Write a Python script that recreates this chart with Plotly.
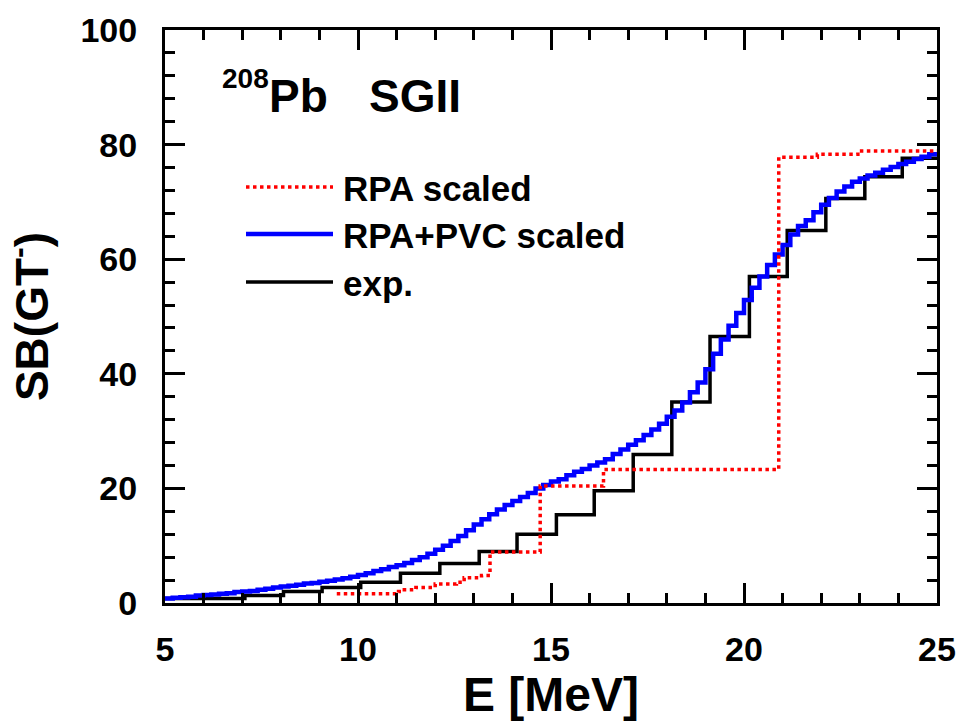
import plotly.graph_objects as go

# ---------------- data ----------------
# experimental cumulative strength (step edges in MeV, values between edges)
exp_edges = [5.0, 7.07, 8.07, 9.07, 10.07, 11.1, 12.12, 13.14, 14.12, 15.14, 16.12,
             17.13, 18.13, 19.12, 20.14, 21.12, 22.12, 23.13, 24.1, 25.0]
exp_vals = [0.8, 1.3, 2.0, 2.7, 3.6, 5.2, 6.9, 9.0, 12.0, 15.4, 19.6,
            25.9, 35.1, 46.5, 57.0, 65.0, 70.6, 74.4, 77.6]

# RPA scaled
rpa_edges = [9.45, 11.05, 11.2, 11.5, 12.0, 12.55, 12.75, 13.2, 13.42, 14.72,
             16.36, 20.9, 21.9, 22.95, 25.0]
rpa_vals = [1.6, 2.0, 2.3, 2.7, 3.3, 3.6, 4.4, 4.8, 8.9, 20.4,
            23.3, 77.8, 78.3, 78.9]

# RPA+PVC scaled (fine 0.2 MeV staircase)
pvc_E = [5.0, 5.2, 5.4, 5.6, 5.8, 6.0, 6.2, 6.4, 6.6, 6.8,
         7.0, 7.2, 7.4, 7.6, 7.8, 8.0, 8.2, 8.4, 8.6, 8.8,
         9.0, 9.2, 9.4, 9.6, 9.8, 10.0, 10.2, 10.4, 10.6, 10.8,
         11.0, 11.2, 11.4, 11.6, 11.8, 12.0, 12.2, 12.4, 12.6, 12.8,
         13.0, 13.2, 13.4, 13.6, 13.8, 14.0, 14.2, 14.4, 14.6, 14.8,
         15.0, 15.2, 15.4, 15.6, 15.8, 16.0, 16.2, 16.4, 16.6, 16.8,
         17.0, 17.2, 17.4, 17.6, 17.8, 18.0, 18.2, 18.4, 18.6, 18.8,
         19.0, 19.2, 19.4, 19.6, 19.8, 20.0, 20.2, 20.4, 20.6, 20.8,
         21.0, 21.2, 21.4, 21.6, 21.8, 22.0, 22.2, 22.4, 22.6, 22.8,
         23.0, 23.2, 23.4, 23.6, 23.8, 24.0, 24.2, 24.4, 24.6, 24.8, 25.0]
pvc_vals = [0.8, 0.9, 1.0, 1.1, 1.3, 1.4, 1.5, 1.6, 1.7, 1.9,
            2.0, 2.1, 2.3, 2.5, 2.7, 2.9, 3.0, 3.2, 3.4, 3.5,
            3.7, 3.9, 4.1, 4.3, 4.6, 4.9, 5.2, 5.6, 5.9, 6.3,
            6.6, 7.0, 7.5, 8.0, 8.6, 9.3, 10.0, 10.8, 11.7, 12.7,
            13.7, 14.6, 15.5, 16.3, 17.1, 17.8, 18.5, 19.2, 20.0, 20.6,
            21.2, 21.6, 22.3, 22.9, 23.4, 24.0, 24.5, 25.1, 26.0, 26.8,
            27.6, 28.4, 29.3, 30.3, 31.3, 32.5, 33.6, 35.0, 36.8, 38.5,
            40.8, 43.5, 46.0, 48.4, 50.6, 52.9, 55.0, 57.0, 59.0, 60.8,
            62.5, 64.3, 65.8, 66.8, 68.2, 69.5, 70.7, 71.8, 72.7, 73.5,
            74.1, 74.6, 75.1, 75.6, 76.1, 76.6, 77.0, 77.5, 77.9, 78.3, 78.7]

x_ticks = [5, 10, 15, 20, 25]
y_ticks = [0, 20, 40, 60, 80, 100]
legend_names = ["RPA scaled", "RPA+PVC scaled", "exp."]

# ---------------- figure ----------------
W, H = 960, 723
L, R, T, B = 165, 23, 30, 120
FONT = "Liberation Sans, Arial, sans-serif"


def px(xp):
    return (xp - L) / (W - L - R)


def py(yp):
    return (H - B - yp) / (H - T - B)


fig = go.Figure()
fig.add_trace(go.Scatter(x=exp_edges, y=exp_vals + [exp_vals[-1]], mode="lines",
                         line=dict(color="black", width=3.5, shape="hv"),
                         name=legend_names[2], showlegend=False, hoverinfo="skip"))
fig.add_trace(go.Scatter(x=pvc_E, y=pvc_vals, mode="lines",
                         line=dict(color="#0000ff", width=4.5, shape="hv"),
                         name=legend_names[1], showlegend=False, hoverinfo="skip"))
fig.add_trace(go.Scatter(x=rpa_edges, y=rpa_vals + [rpa_vals[-1]], mode="lines",
                         line=dict(color="#ff0000", width=3.5, shape="hv", dash="3.5px,3.5px"),
                         name=legend_names[0], showlegend=False, hoverinfo="skip"))

axis_common = dict(
    showline=True, linecolor="black", linewidth=3, mirror="allticks",
    ticks="inside", tickwidth=3, tickcolor="black", ticklen=20,
    showgrid=False, zeroline=False,
    tickfont=dict(family=FONT, size=34, color="black", weight="bold"),
)

fig.update_xaxes(range=[5, 25], tickvals=x_ticks, ticktext=[str(v) for v in x_ticks],
                 minor=dict(dtick=1, ticklen=10, tickwidth=3, tickcolor="black", ticks="inside"),
                 title=dict(text="E [MeV]", standoff=2,
                            font=dict(family=FONT, size=48, color="black", weight="bold")),
                 ticklabelstandoff=14,
                 **axis_common)
fig.update_yaxes(range=[0, 100], tickvals=y_ticks, ticktext=[str(v) for v in y_ticks],
                 minor=dict(dtick=4, ticklen=10, tickwidth=3, tickcolor="black", ticks="inside"),
                 title=dict(text="SB(GT<sup>-</sup>)", standoff=20,
                            font=dict(family=FONT, size=46, color="black", weight="bold")),
                 ticklabelstandoff=18,
                 **axis_common)

# manual legend
legend_rows = [187, 234, 282]
legend_styles = [dict(color="#ff0000", width=3.5, dash="3.5px,3.5px"),
                 dict(color="#0000ff", width=4.5),
                 dict(color="black", width=3.5)]
for name, yrow, st in zip(legend_names, legend_rows, legend_styles):
    fig.add_shape(type="line", xref="paper", yref="paper",
                  x0=px(246), x1=px(333), y0=py(yrow), y1=py(yrow), line=st)
    fig.add_annotation(xref="paper", yref="paper", x=px(341), y=py(yrow + 1),
                       xanchor="left", yanchor="middle", showarrow=False, text=name,
                       font=dict(family=FONT, size=35, color="black", weight="bold"))

# title annotation 208Pb SGII
fig.add_annotation(xref="paper", yref="paper", x=px(220), y=py(79),
                   xanchor="left", yanchor="middle", showarrow=False, text="208",
                   font=dict(family=FONT, size=28, color="black", weight="bold"))
fig.add_annotation(xref="paper", yref="paper", x=px(267), y=py(96),
                   xanchor="left", yanchor="middle", showarrow=False, text="Pb",
                   font=dict(family=FONT, size=46, color="black", weight="bold"))
fig.add_annotation(xref="paper", yref="paper", x=px(367), y=py(96),
                   xanchor="left", yanchor="middle", showarrow=False, text="SGII",
                   font=dict(family=FONT, size=46, color="black", weight="bold"))

fig.update_layout(width=W, height=H, margin=dict(l=L, r=R, t=T, b=B, autoexpand=False),
                  paper_bgcolor="white", plot_bgcolor="white", showlegend=False)

fig.write_html("out.html")
